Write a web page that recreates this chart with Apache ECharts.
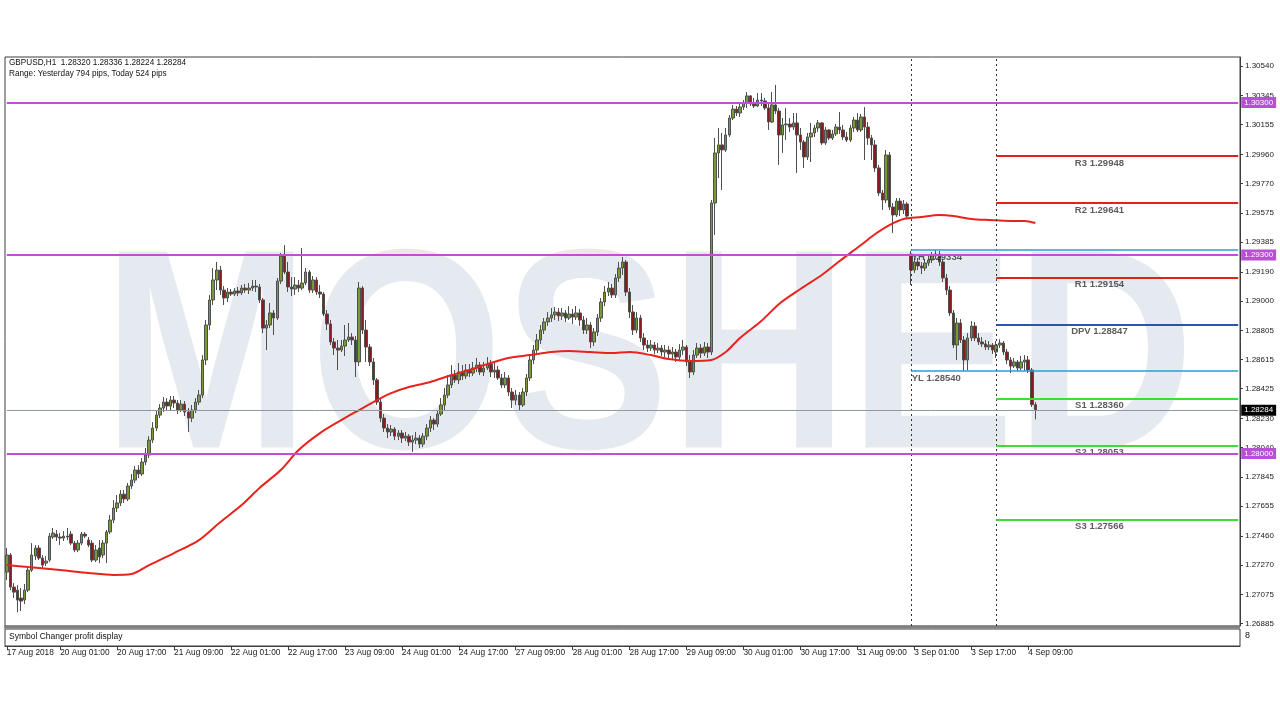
<!DOCTYPE html>
<html>
<head>
<meta charset="utf-8">
<script src="https://cdn.jsdelivr.net/npm/echarts@6.0.0/dist/echarts.min.js"></script>
<style>
html,body{margin:0;padding:0;background:#fff;}
#chart{width:1280px;height:720px;}
</style>
</head>
<body>
<div id="chart"></div>
<script>
// ---------------- data ----------------
const symbol = 'GBPUSD';
const tradingDays = ['17 Aug','20 Aug','21 Aug','22 Aug','23 Aug','24 Aug','27 Aug','28 Aug','29 Aug','30 Aug','31 Aug','3 Sep','4 Sep','5 Sep','6 Sep'];
const firstHour = 10;
const shiftBars = 57;

const open = [
1.27223,1.27335,1.27125,1.27105,1.27053,1.27040,1.27105,1.27236,1.27328,1.27381,
1.27315,1.27282,1.27302,1.27453,1.27472,1.27453,1.27446,1.27459,1.27472,1.27413,
1.27368,1.27413,1.27472,1.27433,1.27413,1.27302,1.27381,1.27335,1.27413,1.27486,
1.27564,1.27643,1.27676,1.27734,1.27702,1.27787,1.27826,1.27892,1.27866,1.27944,
1.27990,1.28088,1.28167,1.28252,1.28298,1.28337,1.28311,1.28350,1.28331,1.28285,
1.28324,1.28272,1.28232,1.28285,1.28337,1.28383,1.28613,1.28842,1.29006,1.29137,
1.29202,1.29071,1.29019,1.29058,1.29045,1.29065,1.29052,1.29084,1.29071,1.29084,
1.29097,1.29091,1.29006,1.28822,1.28842,1.28921,1.28888,1.29130,1.29294,1.29189,
1.29091,1.29078,1.29104,1.29084,1.29117,1.29189,1.29071,1.29137,1.29058,1.29045,
1.28914,1.28849,1.28731,1.28691,1.28678,1.28704,1.28744,1.28763,1.28744,1.28600,
1.29084,1.28809,1.28698,1.28600,1.28482,1.28337,1.28232,1.28167,1.28141,1.28160,
1.28114,1.28134,1.28101,1.28114,1.28075,1.28088,1.28101,1.28062,1.28114,1.28167,
1.28219,1.28193,1.28259,1.28318,1.28383,1.28449,1.28514,1.28482,1.28534,1.28508,
1.28547,1.28527,1.28560,1.28580,1.28534,1.28560,1.28586,1.28534,1.28547,1.28495,
1.28449,1.28495,1.28403,1.28350,1.28383,1.28318,1.28403,1.28495,1.28613,1.28678,
1.28744,1.28809,1.28862,1.28888,1.28908,1.28927,1.28901,1.28921,1.28888,1.28914,
1.28894,1.28921,1.28875,1.28809,1.28842,1.28731,1.28796,1.28888,1.28993,1.29058,
1.29084,1.29039,1.29150,1.29215,1.29255,1.29058,1.28927,1.28809,1.28888,1.28757,
1.28711,1.28691,1.28711,1.28678,1.28691,1.28665,1.28678,1.28652,1.28665,1.28632,
1.28678,1.28698,1.28600,1.28534,1.28645,1.28691,1.28658,1.28698,1.28665,1.29641,
1.29969,1.30022,1.29989,1.30087,1.30198,1.30257,1.30231,1.30270,1.30297,1.30343,
1.30290,1.30277,1.30316,1.30310,1.30264,1.30172,1.30284,1.30244,1.30087,1.30153,
1.30159,1.30139,1.30166,1.30087,1.30041,1.29943,1.30074,1.30100,1.30133,1.30166,
1.30035,1.30120,1.30067,1.30094,1.30139,1.30120,1.30074,1.30054,1.30133,1.30185,
1.30120,1.30205,1.30139,1.30067,1.30022,1.29871,1.29707,1.29661,1.29956,1.29615,
1.29563,1.29654,1.29596,1.29635,1.29307,1.29202,1.29255,1.29229,1.29215,1.29248,
1.29268,1.29294,1.29307,1.29255,1.29150,1.29071,1.28921,1.28711,1.28855,1.28744,
1.28613,1.28757,1.28835,1.28757,1.28731,1.28718,1.28698,1.28711,1.28665,1.28711,
1.28724,1.28665,1.28613,1.28573,1.28600,1.28560,1.28600,1.28613,1.28547,1.28320
];
const high = [
1.27381,1.27348,1.27151,1.27138,1.27119,1.27145,1.27250,1.27413,1.27400,1.27400,
1.27335,1.27328,1.27479,1.27512,1.27499,1.27479,1.27492,1.27512,1.27492,1.27427,
1.27433,1.27486,1.27486,1.27453,1.27433,1.27400,1.27433,1.27433,1.27499,1.27597,
1.27695,1.27728,1.27761,1.27761,1.27807,1.27866,1.27918,1.27924,1.27970,1.28036,
1.28114,1.28206,1.28285,1.28324,1.28370,1.28363,1.28377,1.28377,1.28350,1.28350,
1.28344,1.28298,1.28318,1.28363,1.28416,1.28645,1.28875,1.29039,1.29215,1.29255,
1.29229,1.29097,1.29084,1.29078,1.29084,1.29091,1.29104,1.29111,1.29117,1.29137,
1.29137,1.29111,1.29019,1.28875,1.28986,1.28940,1.29150,1.29314,1.29366,1.29255,
1.29156,1.29156,1.29137,1.29347,1.29215,1.29202,1.29163,1.29156,1.29104,1.29058,
1.28940,1.28875,1.28757,1.28744,1.28744,1.28842,1.28855,1.28789,1.28770,1.29124,
1.29097,1.28875,1.28717,1.28626,1.28495,1.28363,1.28259,1.28193,1.28187,1.28173,
1.28154,1.28154,1.28141,1.28127,1.28121,1.28141,1.28121,1.28134,1.28193,1.28246,
1.28232,1.28285,1.28363,1.28429,1.28514,1.28580,1.28547,1.28593,1.28580,1.28586,
1.28586,1.28600,1.28626,1.28600,1.28600,1.28632,1.28613,1.28593,1.28573,1.28521,
1.28534,1.28514,1.28429,1.28416,1.28403,1.28429,1.28521,1.28639,1.28711,1.28783,
1.28842,1.28888,1.28927,1.28953,1.28960,1.28953,1.28953,1.28940,1.28966,1.28947,
1.28966,1.28947,1.28901,1.28888,1.28862,1.28822,1.28914,1.29019,1.29097,1.29124,
1.29111,1.29176,1.29255,1.29288,1.29268,1.29084,1.28973,1.28927,1.28908,1.28789,
1.28744,1.28744,1.28731,1.28724,1.28711,1.28711,1.28704,1.28698,1.28685,1.28717,
1.28744,1.28711,1.28645,1.28678,1.28724,1.28717,1.28731,1.28724,1.29661,1.30067,
1.30133,1.30100,1.30133,1.30218,1.30284,1.30277,1.30290,1.30316,1.30369,1.30349,
1.30330,1.30362,1.30362,1.30330,1.30290,1.30369,1.30415,1.30264,1.30198,1.30264,
1.30198,1.30231,1.30231,1.30133,1.30054,1.30100,1.30166,1.30153,1.30185,1.30172,
1.30139,1.30126,1.30120,1.30159,1.30238,1.30153,1.30107,1.30153,1.30205,1.30231,
1.30225,1.30270,1.30172,1.30087,1.30054,1.29891,1.29727,1.29989,1.29976,1.29641,
1.29674,1.29674,1.29661,1.29648,1.29327,1.29281,1.29281,1.29255,1.29275,1.29294,
1.29320,1.29334,1.29327,1.29275,1.29176,1.29097,1.28940,1.28888,1.28881,1.28770,
1.28789,1.28868,1.28862,1.28789,1.28763,1.28744,1.28737,1.28724,1.28737,1.28748,
1.28737,1.28685,1.28632,1.28626,1.28613,1.28639,1.28645,1.28639,1.28560,1.28336
];
const low = [
1.27171,1.27105,1.27053,1.26961,1.26968,1.27014,1.27092,1.27223,1.27302,1.27302,
1.27250,1.27263,1.27289,1.27440,1.27427,1.27400,1.27427,1.27433,1.27400,1.27354,
1.27354,1.27400,1.27446,1.27387,1.27289,1.27289,1.27282,1.27315,1.27282,1.27472,
1.27544,1.27617,1.27656,1.27676,1.27689,1.27767,1.27807,1.27839,1.27852,1.27924,
1.27970,1.28069,1.28147,1.28232,1.28272,1.28285,1.28285,1.28298,1.28259,1.28272,
1.28246,1.28141,1.28206,1.28265,1.28318,1.28363,1.28580,1.28809,1.28973,1.29071,
1.29039,1.28973,1.28993,1.29032,1.29032,1.29032,1.29039,1.29052,1.29045,1.29065,
1.29058,1.28986,1.28789,1.28678,1.28822,1.28776,1.28875,1.29111,1.29176,1.29058,
1.29032,1.29039,1.29058,1.29071,1.29104,1.29052,1.29052,1.29039,1.29019,1.28901,
1.28809,1.28711,1.28645,1.28547,1.28665,1.28639,1.28731,1.28711,1.28501,1.28573,
1.28783,1.28600,1.28573,1.28449,1.28318,1.28206,1.28141,1.28101,1.28114,1.28088,
1.28088,1.28069,1.28082,1.28049,1.28010,1.28062,1.28036,1.28042,1.28088,1.28141,
1.28154,1.28173,1.28246,1.28285,1.28363,1.28429,1.28462,1.28455,1.28482,1.28488,
1.28501,1.28508,1.28534,1.28514,1.28508,1.28547,1.28501,1.28495,1.28482,1.28429,
1.28429,1.28377,1.28298,1.28318,1.28285,1.28305,1.28377,1.28475,1.28586,1.28658,
1.28718,1.28783,1.28836,1.28862,1.28875,1.28868,1.28875,1.28862,1.28875,1.28849,
1.28875,1.28836,1.28783,1.28783,1.28691,1.28704,1.28770,1.28862,1.28966,1.29032,
1.29019,1.29019,1.29124,1.29170,1.29032,1.28888,1.28776,1.28789,1.28731,1.28678,
1.28665,1.28672,1.28652,1.28658,1.28639,1.28632,1.28626,1.28619,1.28600,1.28613,
1.28645,1.28573,1.28495,1.28514,1.28626,1.28626,1.28639,1.28626,1.28645,1.29432,
1.29805,1.29727,1.29976,1.30074,1.30185,1.30211,1.30205,1.30251,1.30264,1.30277,
1.30264,1.30270,1.30277,1.30251,1.30120,1.30166,1.30225,1.29891,1.29969,1.30054,
1.30107,1.30120,1.29838,1.29989,1.29871,1.29923,1.29910,1.30074,1.30107,1.30022,
1.30022,1.30054,1.30054,1.30081,1.30094,1.30054,1.30041,1.30041,1.30107,1.30107,
1.30107,1.29923,1.30022,1.29923,1.29845,1.29687,1.29596,1.29641,1.29596,1.29445,
1.29550,1.29556,1.29569,1.29536,1.29104,1.29183,1.29202,1.29176,1.29196,1.29229,
1.29248,1.29275,1.29229,1.29124,1.29039,1.28901,1.28691,1.28613,1.28724,1.28540,
1.28545,1.28737,1.28737,1.28711,1.28698,1.28678,1.28678,1.28652,1.28626,1.28691,
1.28645,1.28586,1.28527,1.28560,1.28541,1.28547,1.28541,1.28527,1.28305,1.28224
];
const close = [
1.27335,1.27125,1.27092,1.27040,1.27033,1.27105,1.27236,1.27335,1.27381,1.27315,
1.27269,1.27295,1.27459,1.27479,1.27453,1.27446,1.27459,1.27453,1.27413,1.27368,
1.27413,1.27472,1.27459,1.27400,1.27302,1.27368,1.27322,1.27413,1.27486,1.27564,
1.27643,1.27676,1.27734,1.27702,1.27787,1.27826,1.27892,1.27866,1.27944,1.27990,
1.28088,1.28167,1.28252,1.28298,1.28337,1.28311,1.28350,1.28331,1.28285,1.28324,
1.28272,1.28232,1.28285,1.28337,1.28383,1.28613,1.28842,1.29006,1.29137,1.29202,
1.29071,1.29019,1.29058,1.29045,1.29065,1.29052,1.29084,1.29071,1.29084,1.29097,
1.29091,1.29006,1.28822,1.28842,1.28921,1.28888,1.29130,1.29294,1.29189,1.29091,
1.29078,1.29104,1.29084,1.29117,1.29189,1.29071,1.29137,1.29058,1.29045,1.28914,
1.28849,1.28731,1.28691,1.28678,1.28704,1.28744,1.28763,1.28744,1.28600,1.29084,
1.28809,1.28698,1.28600,1.28482,1.28337,1.28232,1.28167,1.28141,1.28160,1.28114,
1.28134,1.28101,1.28114,1.28075,1.28088,1.28101,1.28062,1.28114,1.28167,1.28219,
1.28193,1.28259,1.28318,1.28383,1.28449,1.28514,1.28482,1.28534,1.28508,1.28547,
1.28527,1.28560,1.28580,1.28534,1.28560,1.28586,1.28534,1.28547,1.28495,1.28449,
1.28495,1.28403,1.28350,1.28383,1.28318,1.28403,1.28495,1.28613,1.28678,1.28744,
1.28809,1.28862,1.28888,1.28908,1.28927,1.28901,1.28921,1.28888,1.28914,1.28894,
1.28921,1.28875,1.28809,1.28842,1.28731,1.28796,1.28888,1.28993,1.29058,1.29084,
1.29039,1.29150,1.29215,1.29255,1.29058,1.28927,1.28809,1.28888,1.28757,1.28711,
1.28691,1.28711,1.28678,1.28691,1.28665,1.28678,1.28652,1.28665,1.28632,1.28678,
1.28698,1.28600,1.28534,1.28645,1.28691,1.28658,1.28698,1.28665,1.29641,1.29969,
1.30022,1.29989,1.30087,1.30198,1.30257,1.30231,1.30270,1.30297,1.30343,1.30290,
1.30277,1.30316,1.30310,1.30264,1.30172,1.30284,1.30244,1.30087,1.30153,1.30159,
1.30139,1.30166,1.30087,1.30041,1.29943,1.30074,1.30100,1.30133,1.30166,1.30035,
1.30120,1.30067,1.30094,1.30139,1.30120,1.30074,1.30054,1.30133,1.30185,1.30120,
1.30205,1.30139,1.30067,1.30022,1.29871,1.29707,1.29661,1.29956,1.29615,1.29563,
1.29654,1.29596,1.29635,1.29556,1.29202,1.29255,1.29229,1.29215,1.29248,1.29268,
1.29294,1.29307,1.29255,1.29150,1.29071,1.28921,1.28711,1.28855,1.28744,1.28613,
1.28757,1.28835,1.28757,1.28731,1.28718,1.28698,1.28711,1.28678,1.28711,1.28724,
1.28665,1.28613,1.28573,1.28600,1.28560,1.28600,1.28613,1.28547,1.28320,1.28284
];

const maIndex = [0,6,15,23,30,35,40,47,54,60,66,71,77,82,88,94,99,104,108,113,119,125,130,136,141,147,153,158,164,170,175,181,186,192,198,202,206,212,217,223,229,234,240,244,248,252,257,262,266,271,276,282,286,289];
const maValue = [1.27269,1.27256,1.27237,1.27217,1.27204,1.27210,1.27269,1.27348,1.27433,1.27551,1.27662,1.27774,1.27892,1.28023,1.28134,1.28219,1.28285,1.28350,1.28396,1.28436,1.28469,1.28514,1.28547,1.28593,1.28626,1.28645,1.28665,1.28672,1.28665,1.28658,1.28665,1.28645,1.28619,1.28606,1.28613,1.28665,1.28757,1.28868,1.28980,1.29078,1.29170,1.29261,1.29366,1.29438,1.29497,1.29537,1.29550,1.29563,1.29556,1.29537,1.29530,1.29524,1.29524,1.29510];

const xTickLabels = ['17 Aug 2018','20 Aug 01:00','20 Aug 17:00','21 Aug 09:00','22 Aug 01:00','22 Aug 17:00','23 Aug 09:00','24 Aug 01:00','24 Aug 17:00','27 Aug 09:00','28 Aug 01:00','28 Aug 17:00','29 Aug 09:00','30 Aug 01:00','30 Aug 17:00','31 Aug 09:00','3 Sep 01:00','3 Sep 17:00','4 Sep 09:00'];
const yTickLabels = [1.30540,1.30345,1.30155,1.29960,1.29770,1.29575,1.29385,1.29190,1.29000,1.28805,1.28615,1.28425,1.28230,1.28040,1.27845,1.27655,1.27460,1.27270,1.27075,1.26885];

const levelValues = [1.30300, 1.29300, 1.28000];
const bidValue = 1.28284;
const daySeparators = ['3 Sep 00:00', '4 Sep 00:00'];
const yesterdayNames = ['YH', 'YL'];
const yesterdayValues = [1.29334, 1.28540];
const pivotNames = ['R3', 'R2', 'R1', 'DPV', 'S1', 'S2', 'S3'];
const pivotValues = [1.29948, 1.29641, 1.29154, 1.28847, 1.28360, 1.28053, 1.27566];
const pivotColors = ['#e3211c', '#e3211c', '#e3211c', '#2a55b0', '#3bdc3b', '#3bdc3b', '#3bdc3b'];
const rangeText = 'Range: Yesterday 794 pips, Today 524 pips';

// ---------------- build ----------------
const cats = [];
tradingDays.forEach((d, k) => {
  for (let h = (k === 0 ? firstHour : 0); h < 24; h++) cats.push(d + ' ' + String(h).padStart(2, '0') + ':00');
});
const nCats = close.length + shiftBars;
const categories = cats.slice(0, nCats);
const candles = close.map((c, i) => [open[i], c, low[i], high[i]]);
const maData = maIndex.map((ix, k) => [ix, maValue[k]]);
const sepIdx = daySeparators.map(s => categories.indexOf(s));
const lastIdx = nCats - 1;
const pivotLabelIdx = sepIdx[1] + 29;
const isTick = (i, v) => i === 0 || xTickLabels.indexOf(v) >= 0;
const last = close.length - 1;
const f5 = v => v.toFixed(5);

const FONT = 'Liberation Sans';
const chart = echarts.init(document.getElementById('chart'), null, {renderer: 'canvas'});

const hLine = (v, color, width, fromIdx) => [
  {coord: [fromIdx, v], lineStyle: {color: color, width: width, type: 'solid'}},
  {coord: [lastIdx, v]}
];
const tagLine = (v, color, width, tagBg) => [
  {coord: [0, v], lineStyle: {color: color, width: width, type: 'solid'},
   label: {show: true, position: 'end', distance: 3, formatter: () => f5(v), color: '#fff',
           backgroundColor: tagBg, padding: [2, 3, 1, 3], fontSize: 8, fontFamily: FONT}},
  {coord: [lastIdx, v]}
];

chart.setOption({
  animation: false,
  backgroundColor: '#ffffff',
  grid: [
    {left: 5, right: 40, top: 57, bottom: 94, show: true, borderColor: '#3c3c3c', borderWidth: 1},
    {left: 5, right: 40, top: 629, height: 17, show: true, borderColor: '#3c3c3c', borderWidth: 1}
  ],
  xAxis: [
    {type: 'category', gridIndex: 0, data: categories, boundaryGap: true, show: false},
    {type: 'category', gridIndex: 1, data: categories, boundaryGap: true,
     axisLine: {show: true, lineStyle: {color: '#3c3c3c'}},
     axisTick: {show: true, interval: isTick, alignWithLabel: true, length: 4, lineStyle: {color: '#3c3c3c'}},
     axisLabel: {show: true, interval: isTick, formatter: (v, i) => i === 0 ? xTickLabels[0] : v,
                 align: 'left', margin: 3, fontSize: 8.3, color: '#1a1a1a', fontFamily: FONT},
     splitLine: {show: false}}
  ],
  yAxis: [
    {type: 'value', gridIndex: 0, position: 'right', min: 1.26870, max: 1.30598, scale: true,
     splitLine: {show: false},
     axisLine: {show: true, lineStyle: {color: '#3c3c3c'}},
     axisTick: {show: true, length: 3, customValues: yTickLabels, lineStyle: {color: '#3c3c3c'}},
     axisLabel: {show: true, customValues: yTickLabels, formatter: v => f5(v), margin: 5,
                 fontSize: 8, color: '#1a1a1a', fontFamily: FONT}},
    {type: 'value', gridIndex: 1, position: 'right', min: 0, max: 1, show: false}
  ],
  graphic: [
    {type: 'text', x: 648.5, y: 369, scaleX: 0.873, z: 0, silent: true,
     style: {text: 'MOSHED', fill: '#e5e9f0', font: 'bold 285px "Liberation Sans"',
             align: 'center', verticalAlign: 'middle', textAlign: 'center', textVerticalAlign: 'middle'}},
    {type: 'text', left: 9, top: 59, silent: true,
     style: {text: symbol + ',H1  ' + [open[last], high[last], low[last], close[last]].map(f5).join(' '),
             fill: '#111', font: '8.2px "Liberation Sans"'}},
    {type: 'text', left: 9, top: 70, silent: true,
     style: {text: rangeText, fill: '#111', font: '8.2px "Liberation Sans"'}},
    {type: 'rect', shape: {x: 4, y: 625.5, width: 1236, height: 3}, style: {fill: '#808080'}, silent: true},
    {type: 'text', left: 9, top: 632, silent: true,
     style: {text: 'Symbol Changer profit display', fill: '#111', font: '8.5px "Liberation Sans"'}},
    {type: 'text', left: 1245, top: 631, silent: true,
     style: {text: '8', fill: '#111', font: '9px "Liberation Sans"'}}
  ],
  series: [
    {
      type: 'candlestick', name: symbol, xAxisIndex: 0, yAxisIndex: 0, data: candles,
      barWidth: 3,
      itemStyle: {color: '#789a35', color0: '#871c1c', borderColor: '#505050', borderColor0: '#505050', borderWidth: 1},
      markLine: {
        silent: true, symbol: ['none', 'none'], animation: false, label: {show: false},
        data: [
          ...sepIdx.map(ix => ({xAxis: ix, lineStyle: {color: '#333', type: [2, 3], width: 1}})),
          ...yesterdayValues.map(v => hLine(v, '#2f9ad0', 1.6, sepIdx[0])),
          ...pivotValues.map((v, k) => hLine(v, pivotColors[k], 2, sepIdx[1]))
        ]
      }
    },
    {
      type: 'line', name: 'MA', xAxisIndex: 0, yAxisIndex: 0, data: maData, smooth: 0.3,
      showSymbol: false, symbol: 'none', lineStyle: {color: '#e8231e', width: 2}, silent: true
    },
    {
      type: 'scatter', name: 'pivot labels', xAxisIndex: 0, yAxisIndex: 0, symbolSize: 0, silent: true,
      data: pivotNames.map((n, k) => ({name: n, value: [pivotLabelIdx, pivotValues[k]]})),
      label: {show: true, position: [0, 2], align: 'center', verticalAlign: 'top',
              formatter: p => p.name + ' ' + f5(p.value[1]), fontSize: 9.5, fontWeight: 'bold',
              color: '#333', fontFamily: FONT}
    },
    {
      type: 'scatter', name: 'day labels', xAxisIndex: 0, yAxisIndex: 0, symbolSize: 0, silent: true,
      data: yesterdayNames.map((n, k) => ({name: n, value: [sepIdx[0], yesterdayValues[k]]})),
      label: {show: true, position: [1, 2], align: 'left', verticalAlign: 'top',
              formatter: p => p.name + ' ' + f5(p.value[1]), fontSize: 9.5, fontWeight: 'bold',
              color: '#333', fontFamily: FONT},
      markLine: {
        silent: true, symbol: ['none', 'none'], animation: false,
        data: [
          ...levelValues.map(v => tagLine(v, '#c24fd2', 2, '#b94fd6')),
          tagLine(bidValue, '#8e98a3', 1, '#000')
        ]
      }
    },
    {type: 'line', xAxisIndex: 1, yAxisIndex: 1, data: [], silent: true}
  ]
});
</script>
</body>
</html>
